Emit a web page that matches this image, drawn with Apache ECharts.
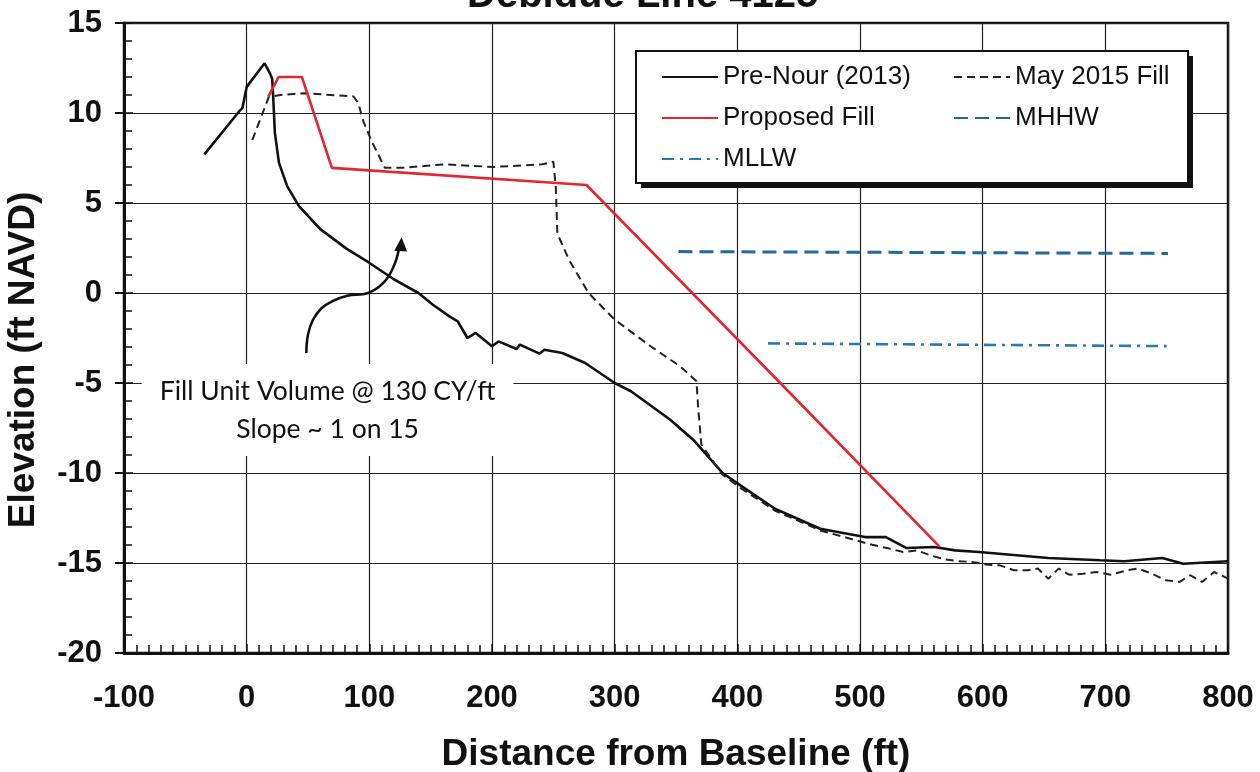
<!DOCTYPE html>
<html>
<head>
<meta charset="utf-8">
<title>Debidue Line 4125</title>
<script src="https://cdn.jsdelivr.net/npm/echarts@6/dist/echarts.min.js"></script>
<style>
  html, body { margin: 0; padding: 0; background: #fff; }
  #chart { width: 1260px; height: 772px; }
</style>
</head>
<body>
<div id="chart"></div>
<script>
// [distance from baseline (ft), elevation (ft NAVD)]
const preNour = [
  [-34.5, 7.7], [-6, 10.1], [-3.5, 10.27], [0, 11.45], [14.6, 12.76], [19, 12.2],
  [20.8, 11.9], [21.6, 10.9], [23, 8.9], [26.3, 7.24], [33, 5.94], [42.5, 4.84],
  [60, 3.55], [81.6, 2.45], [99.2, 1.71], [119.4, 0.79], [140, 0], [151.8, -0.65],
  [165.3, -1.3], [172, -1.57], [180, -2.5], [186.7, -2.22], [200, -2.96], [205.3, -2.69],
  [220, -3.11], [222.7, -2.87], [238.7, -3.37], [242.7, -3.15], [257.3, -3.33], [276, -3.89],
  [300, -5.0], [313.3, -5.46], [345.3, -7.04], [364, -8.15], [388, -10], [402.8, -10.7],
  [431, -12.0], [467.6, -13.1], [504, -13.56], [521, -13.56], [538, -14.17], [560.6, -14.11],
  [577.5, -14.3], [597, -14.39], [653.5, -14.72], [695.8, -14.85], [715.5, -14.9],
  [746.5, -14.72], [763.4, -15.04], [800, -14.9]
]
const may2015 = [
  [4.6, 8.5], [18.1, 10.9], [27.6, 11.0], [46.5, 11.1], [87, 10.92], [91, 10.55],
  [95.1, 9.54], [101.9, 8.43], [112.6, 6.96], [127.6, 6.96], [162, 7.15], [201, 7.0],
  [241, 7.15], [250, 7.3], [252, 5.9], [253.3, 3.3], [262.7, 1.85], [278.7, 0],
  [300, -1.48], [329.3, -2.96], [353.3, -4.07], [366.7, -4.9], [368, -6.3], [370.7, -8.43],
  [388, -10.1], [403, -10.85], [431, -12.1], [467.6, -13.19], [509.9, -13.99], [524, -14.2],
  [535.2, -14.39], [546.5, -14.3], [557.7, -14.58], [569, -14.8], [580.3, -14.9],
  [591.5, -14.94], [602.8, -15.09], [614, -15.13], [625.4, -15.4], [636.6, -15.4],
  [645, -15.31], [653.5, -15.87], [662, -15.31], [670.4, -15.65], [681.7, -15.6],
  [693, -15.5], [704.2, -15.65], [718.3, -15.4], [726.8, -15.31], [738, -15.59],
  [749.3, -15.96], [760.6, -16.05], [769, -15.68], [778.9, -16.05], [788.7, -15.5],
  [800, -15.87]
]
const proposedFill = [
  [17.6, 10.9], [26, 12.0], [45, 12.0], [69.5, 6.95], [277, 6.0], [435, -5.0], [565, -14.1]
]
const mhhw = [[352, 2.3], [751, 2.2]]
const mllw = [[425, -2.8], [750, -2.95]]

const seriesNames = ['Pre-Nour (2013)', 'May 2015 Fill', 'Proposed Fill', 'MHHW', 'MLLW']
const xRange = [-100, 800, 100]
const yRange = [-20, 15, 5]

// note text and the curved arrow, in data units
const noteText = 'Fill Unit Volume @ 130 CY/ft\nSlope ~ 1 on 15'
const noteAt = [66, -6.5]
const arrowPath = [
  [48.6, -3.33], [50, -2.3], [54, -1.5], [61, -0.85], [70, -0.45], [82, -0.15],
  [99, 0], [112, 0.6], [120, 1.5], [124, 2.4]
]
const arrowHead = [[126.3, 3.1], [120.3, 2.35], [130.8, 2.3]]

const FONT = "'Liberation Sans', Arial, sans-serif"

const chart = echarts.init(document.getElementById('chart'))

const lineSeries = (name, data, color, width, type) => ({
  name,
  type: 'line',
  data,
  symbol: 'none',
  silent: true,
  animation: false,
  lineStyle: { color, width, type },
  itemStyle: { color },
  z: 2
})

const legendBase = {
  orient: 'vertical',
  top: 59,
  itemWidth: 56,
  itemHeight: 14,
  itemGap: 15,
  selectedMode: false,
  itemStyle: { color: 'rgba(0,0,0,0)', borderColor: 'rgba(0,0,0,0)', borderWidth: 0, opacity: 0 },
  textStyle: { fontFamily: FONT, fontSize: 26, color: '#111' },
  z: 6
}

const option = {
  backgroundColor: '#fff',
  title: {
    text: 'Debidue Line 4125',
    left: 462,
    top: -29,
    textStyle: { fontFamily: FONT, fontSize: 40, fontWeight: 'bold', color: '#111' }
  },
  grid: {
    left: 124,
    right: 32,
    top: 23,
    bottom: 119,
    outerBoundsMode: 'none',
    show: true,
    borderColor: '#111',
    borderWidth: 2.5,
    backgroundColor: 'transparent'
  },
  legend: [
    Object.assign({}, legendBase, { left: 656, data: [seriesNames[0], seriesNames[2], seriesNames[4]] }),
    Object.assign({}, legendBase, { left: 948, data: [seriesNames[1], seriesNames[3]] })
  ],
  xAxis: {
    type: 'value',
    min: xRange[0],
    max: xRange[1],
    interval: xRange[2],
    name: 'Distance from Baseline (ft)',
    nameLocation: 'middle',
    nameGap: 83,
    nameTextStyle: { fontFamily: FONT, fontSize: 37, fontWeight: 'bold', color: '#111', verticalAlign: 'top' },
    axisLine: { onZero: false, lineStyle: { color: '#111', width: 3 } },
    axisTick: { inside: true, length: 9, lineStyle: { color: '#111', width: 1.5 } },
    minorTick: { show: true, splitNumber: 10, length: 8, lineStyle: { color: '#111', width: 1.5 } },
    axisLabel: { fontFamily: FONT, fontSize: 31, fontWeight: 'bold', color: '#111', margin: 30 },
    splitLine: { show: true, lineStyle: { color: '#222', width: 1.2 } }
  },
  yAxis: [
    {
      type: 'value',
      min: yRange[0],
      max: yRange[1],
      interval: yRange[2],
      name: 'Elevation (ft NAVD)',
      nameLocation: 'middle',
      nameGap: 82,
      nameTextStyle: { fontFamily: FONT, fontSize: 37, fontWeight: 'bold', color: '#111', padding: [0, 44, 0, 0] },
      axisLine: { onZero: false, lineStyle: { color: '#111', width: 3 } },
      axisTick: { inside: true, length: 9, lineStyle: { color: '#111', width: 1.5 } },
      minorTick: { show: true, splitNumber: 5, length: 8, lineStyle: { color: '#111', width: 1.5 } },
      axisLabel: { fontFamily: FONT, fontSize: 31, fontWeight: 'bold', color: '#111', margin: 22 },
      splitLine: { show: true, lineStyle: { color: '#222', width: 1.2 } }
    },
    {
      // outer half of the major ticks
      type: 'value',
      position: 'left',
      min: yRange[0],
      max: yRange[1],
      interval: yRange[2],
      axisLine: { show: false, onZero: false },
      axisTick: { show: true, inside: false, length: 9, lineStyle: { color: '#111', width: 2 } },
      axisLabel: { show: false },
      splitLine: { show: false }
    }
  ],
  series: [
    lineSeries(seriesNames[0], preNour, '#111', 2.6, 'solid'),
    lineSeries(seriesNames[1], may2015, '#222', 2, [8, 5]),
    lineSeries(seriesNames[2], proposedFill, '#e3262d', 2.6, 'solid'),
    lineSeries(seriesNames[3], mhhw, '#23679f', 3, [14, 7]),
    lineSeries(seriesNames[4], mllw, '#2a79b5', 2.6, [12, 6, 3, 6])
  ]
}

chart.setOption(option)

const toPx = p => chart.convertToPixel({ gridIndex: 0 }, p)
const notePx = toPx(noteAt)

chart.setOption({
  graphic: [
    {
      // legend frame: drop shadow first, then the white box on top
      type: 'rect',
      shape: { x: 641, y: 56, width: 552, height: 132 },
      style: { fill: '#111' },
      z: 3,
      silent: true
    },
    {
      type: 'rect',
      shape: { x: 636, y: 51, width: 552, height: 132 },
      style: { fill: '#fff', stroke: '#111', lineWidth: 2 },
      z: 3,
      silent: true
    },
    {
      type: 'text',
      x: notePx[0],
      y: notePx[1],
      style: {
        text: noteText,
        fontFamily: 'Lato, "Open Sans", sans-serif',
        fontSize: 26.5,
        lineHeight: 38,
        fill: '#111',
        align: 'center',
        verticalAlign: 'middle',
        textAlign: 'center',
        textVerticalAlign: 'middle',
        backgroundColor: '#fff',
        padding: [8, 18]
      },
      z: 5,
      silent: true
    },
    {
      type: 'polyline',
      shape: { points: arrowPath.map(toPx), smooth: 0.4 },
      style: { stroke: '#111', lineWidth: 2.6, fill: null },
      z: 5,
      silent: true
    },
    {
      type: 'polygon',
      shape: { points: arrowHead.map(toPx) },
      style: { fill: '#111' },
      z: 5,
      silent: true
    }
  ]
})
</script>
</body>
</html>
